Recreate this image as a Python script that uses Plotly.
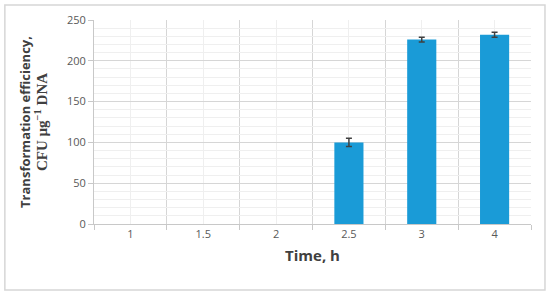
import plotly.graph_objects as go

# data
time_labels = ["1", "1.5", "2", "2.5", "3", "4"]
efficiency = [0, 0, 0, 100, 226, 232]
efficiency_err = [0, 0, 0, 5, 3, 3]

x_pos = list(range(len(time_labels)))

fig = go.Figure()
fig.add_trace(
    go.Bar(
        x=x_pos,
        y=efficiency,
        width=0.4,
        marker=dict(color="#1a9bd7", line=dict(width=0)),
    )
)

# error bars only where there is a bar
err_idx = [i for i, e in enumerate(efficiency_err) if e > 0]
fig.add_trace(
    go.Scatter(
        x=[x_pos[i] for i in err_idx],
        y=[efficiency[i] for i in err_idx],
        mode="markers",
        marker=dict(size=1, color="rgba(0,0,0,0)"),
        error_y=dict(
            type="data",
            array=[efficiency_err[i] for i in err_idx],
            visible=True,
            color="#404040",
            thickness=1.5,
            width=3,
        ),
        hoverinfo="skip",
    )
)

fig.update_layout(
    width=550,
    height=296,
    paper_bgcolor="white",
    plot_bgcolor="white",
    margin=dict(l=94, r=19, t=20, b=72),
    showlegend=False,
    font=dict(family="Open Sans", color="#595959", size=11),
)

fig.update_xaxes(
    range=[-0.5, 5.5],
    tickvals=x_pos,
    ticktext=time_labels,
    showgrid=True,
    gridcolor="#efefef",
    gridwidth=1,
    ticks="",
    showline=True,
    linecolor="#c8c8c8",
    linewidth=1,
    zeroline=False,
    minor=dict(
        tick0=0.5,
        dtick=1,
        showgrid=True,
        gridcolor="#d6d6d6",
        gridwidth=1,
        ticks="outside",
        ticklen=5,
        tickcolor="#c8c8c8",
    ),
    tickfont=dict(size=11, color="#595959"),
    title=dict(
        text="<b>Time, h</b>",
        font=dict(family="Open Sans", size=15, color="#404040"),
        standoff=10,
    ),
)

fig.update_yaxes(
    range=[0, 250],
    dtick=50,
    showgrid=True,
    gridcolor="#d6d6d6",
    gridwidth=1,
    ticks="outside",
    ticklen=5,
    tickcolor="#c8c8c8",
    showline=True,
    linecolor="#c8c8c8",
    linewidth=1,
    zeroline=False,
    minor=dict(dtick=10, showgrid=True, gridcolor="#efefef", gridwidth=1),
    tickfont=dict(size=11, color="#595959"),
    title=dict(
        text="<b>Transformation efficiency,</b><br>"
        "<span style='font-family:Liberation Serif;font-size:15px'><b>CFU µg<sup>−1</sup> DNA</b></span>",
        font=dict(family="Open Sans", size=13, color="#404040"),
        standoff=16,
    ),
)

# light border around the whole chart
fig.add_shape(
    type="rect",
    xref="paper",
    yref="paper",
    x0=-0.204,
    x1=1.032,
    y0=-0.324,
    y1=1.074,
    line=dict(color="#d6d6d6", width=1.5),
    fillcolor="rgba(0,0,0,0)",
    layer="above",
)

fig.write_html(
    "out.html",
    config={"displayModeBar": False},
    post_script="document.body.style.margin='0';",
)
